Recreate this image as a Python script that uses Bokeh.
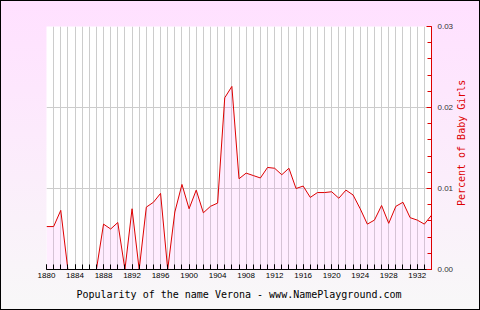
import math
from bokeh.plotting import figure
from bokeh.layouts import row
from bokeh.models import Range1d, FixedTicker, NumeralTickFormatter, InlineStyleSheet, Label
from bokeh.embed import file_html
from bokeh.resources import INLINE

years = list(range(1880, 1935))
percent = [0.0053, 0.0053, 0.0073, 0.0, 0.0, 0.0, 0.0, 0.0, 0.0056, 0.0050,
           0.0058, 0.0, 0.0075, 0.0, 0.0077, 0.0083, 0.0094, 0.0, 0.0071, 0.0105,
           0.0075, 0.0098, 0.0070, 0.0078, 0.0082, 0.0212, 0.0226, 0.0112, 0.0119, 0.0116,
           0.0113, 0.0126, 0.0125, 0.0117, 0.0125, 0.0100, 0.0103, 0.0089, 0.0095, 0.0095,
           0.0096, 0.0088, 0.0098, 0.0092, 0.0075, 0.0056, 0.0061, 0.0079, 0.0057, 0.0078,
           0.0083, 0.0064, 0.0061, 0.0056, 0.0067]
x_label_ticks = list(range(1880, 1933, 4))
y_major_ticks = [0.0, 0.01, 0.02, 0.03]
y_minor_ticks = [0.002 * i for i in range(16)]
title = "Popularity of the name Verona - www.NamePlayground.com"
y_title = "Percent of Baby Girls"

BG = "background: linear-gradient(to bottom, #FFE0FF, #F8F8F8);"

p = figure(width=456, height=310, output_backend="svg", toolbar_location=None,
           x_range=Range1d(1880, 1934), y_range=Range1d(0, 0.03),
           y_axis_location="right",
           min_border_left=46, min_border_right=22, min_border_top=26, min_border_bottom=41)
p.outline_line_color = None
p.background_fill_color = "white"
p.border_fill_color = None
p.stylesheets = [InlineStyleSheet(css=":host { " + BG + " box-shadow: inset 1px 1px 0 black, inset 0 -1px 0 black; }")]

p.varea(x=years, y1=0, y2=percent, fill_color="#FF99FF", fill_alpha=0.18)
p.line(x=years, y=percent, line_color="#DD0000", line_width=1)

xa = p.xaxis[0]
xa.ticker = FixedTicker(ticks=x_label_ticks, minor_ticks=years)
xa.axis_line_color = "black"
xa.major_tick_line_color = "black"
xa.minor_tick_line_color = "black"
xa.major_tick_in = 5
xa.major_tick_out = 0
xa.minor_tick_in = 5
xa.minor_tick_out = 0
xa.major_label_standoff = 3
xa.major_label_text_font = "Liberation Sans"
xa.major_label_text_font_size = "8px"
xa.major_label_text_color = "black"
xa.axis_label = title
xa.axis_label_text_font = "DejaVu Sans Mono"
xa.axis_label_text_font_size = "10px"
xa.axis_label_text_font_style = "normal"
xa.axis_label_text_color = "black"
xa.axis_label_standoff = 8

ya = p.yaxis[0]
ya.ticker = FixedTicker(ticks=y_major_ticks, minor_ticks=y_minor_ticks)
ya.formatter = NumeralTickFormatter(format="0.00")
ya.axis_line_color = "#DD0000"
ya.major_tick_line_color = "#DD0000"
ya.minor_tick_line_color = "#DD0000"
ya.major_tick_in = 5
ya.major_tick_out = 0
ya.minor_tick_in = 4
ya.minor_tick_out = 0
ya.major_label_standoff = 6
ya.major_label_text_font = "Liberation Sans"
ya.major_label_text_font_size = "8px"
ya.major_label_text_color = "#333333"

p.xgrid.ticker = FixedTicker(ticks=years)
p.xgrid.grid_line_color = "#CCCCCC"
p.ygrid.ticker = FixedTicker(ticks=y_major_ticks)
p.ygrid.grid_line_color = "#CCCCCC"

# narrow side strip holding the rotated y-axis title (reads bottom to top)
p2 = figure(width=24, height=310, output_backend="svg", toolbar_location=None,
            x_range=Range1d(0, 24), y_range=Range1d(0, 310),
            x_axis_location=None, y_axis_location=None, min_border=0)
p2.grid.visible = False
p2.outline_line_color = None
p2.background_fill_color = None
p2.border_fill_color = None
p2.stylesheets = [InlineStyleSheet(css=":host { " + BG + " box-shadow: inset -1px 1px 0 black, inset 0 -1px 0 black; }")]
p2.add_layout(Label(x=4.5, y=161.5, text=y_title, angle=math.pi / 2,
                    text_align="center", text_baseline="middle",
                    text_font="DejaVu Sans Mono", text_font_size="10px",
                    text_color="#DD0000"))

layout = row(p, p2, spacing=0)
open("out.html", "w").write(file_html(layout, INLINE))
